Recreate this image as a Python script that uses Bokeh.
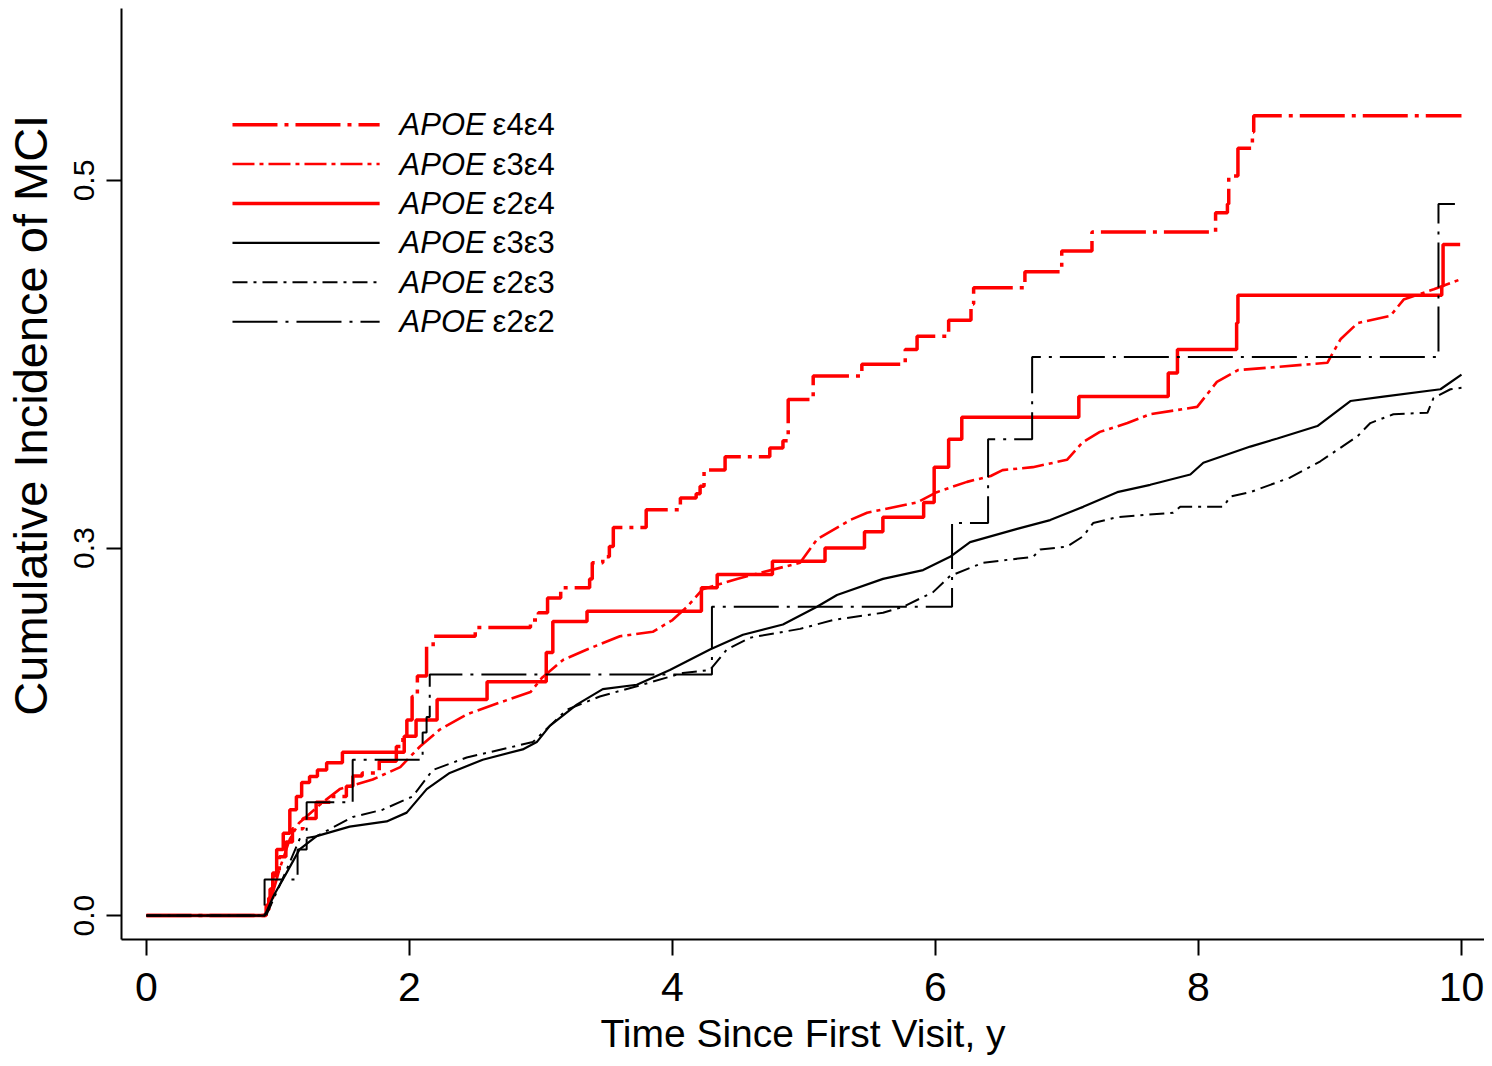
from bokeh.plotting import figure
from bokeh.models import Range1d, FixedTicker, Label, Arrow
from bokeh.embed import file_html
from bokeh.resources import INLINE

# ---------------- data ----------------
x_ticks = [0, 2, 4, 6, 8, 10]
y_ticks = [0.0, 0.25, 0.5]
y_tick_labels = ["0.0", "0.3", "0.5"]
x_title = "Time Since First Visit, y"
y_title = "Cumulative Incidence of MCI"

genotypes = ["ε4ε4", "ε3ε4", "ε2ε4", "ε3ε3", "ε2ε3", "ε2ε2"]

# APOE e4e4 (step)
e44_t = [0, 0.90, 0.93, 0.96, 1.01, 1.06, 1.11, 1.19, 1.29, 1.42, 1.52, 1.57, 1.64, 1.77, 1.90,
         1.95, 1.98, 2.02, 2.06, 2.13, 2.18, 2.50, 2.92, 2.98, 3.05, 3.15, 3.37, 3.39, 3.47, 3.52,
         3.55, 3.80, 4.06, 4.18, 4.21, 4.24, 4.40, 4.74, 4.84, 4.88, 5.07, 5.44, 5.77, 5.86, 6.10,
         6.27, 6.29, 6.68, 6.96, 7.19, 8.13, 8.22, 8.23, 8.30, 8.41, 8.42, 10.0]
e44_v = [0, 0.004, 0.012, 0.027, 0.040, 0.050, 0.059, 0.066, 0.077, 0.081, 0.088, 0.095, 0.097, 0.105, 0.115,
         0.122, 0.133, 0.149, 0.163, 0.183, 0.190, 0.196, 0.201, 0.206, 0.216, 0.223, 0.229, 0.240, 0.244, 0.251,
         0.264, 0.276, 0.284, 0.287, 0.292, 0.303, 0.312, 0.318, 0.323, 0.351, 0.367, 0.375, 0.385, 0.394, 0.405,
         0.416, 0.427, 0.438, 0.452, 0.465, 0.478, 0.484, 0.503, 0.522, 0.533, 0.544, 0.544]

# APOE e3e4 (fine steps, drawn as a curve)
e34_t = [0, 0.90, 0.95, 1.01, 1.09, 1.16, 1.34, 1.47, 1.72, 1.93, 2.08, 2.23, 2.44, 2.69, 2.92, 3.01,
         3.17, 3.35, 3.60, 3.85, 4.00, 4.11, 4.23, 4.49, 4.97, 5.10, 5.35, 5.48, 5.86, 6.01, 6.24, 6.42,
         6.51, 6.74, 7.00, 7.12, 7.25, 7.46, 7.63, 7.99, 8.14, 8.30, 8.98, 9.08, 9.21, 9.46, 9.56, 9.79, 10.0]
e34_v = [0, 0, 0.012, 0.031, 0.052, 0.063, 0.077, 0.086, 0.0925, 0.101, 0.115, 0.1265, 0.137, 0.145, 0.152, 0.162,
         0.174, 0.181, 0.190, 0.193, 0.201, 0.210, 0.222, 0.229, 0.240, 0.256, 0.269, 0.274, 0.281, 0.288, 0.295, 0.299,
         0.303, 0.305, 0.310, 0.322, 0.329, 0.335, 0.341, 0.346, 0.363, 0.371, 0.376, 0.392, 0.403, 0.408, 0.419, 0.426, 0.433]

# APOE e2e4 (step)
e24_t = [0, 0.91, 0.94, 0.96, 0.99, 1.04, 1.09, 1.14, 1.18, 1.24, 1.30, 1.37, 1.49, 1.96, 2.05, 2.21, 2.59,
         3.04, 3.09, 3.35, 4.22, 4.34, 4.76, 5.16, 5.46, 5.60, 5.91, 5.99, 6.10, 6.20, 7.09, 7.77, 7.84,
         8.29, 8.30, 9.85, 9.86, 9.99]
e24_v = [0, 0.007, 0.018, 0.029, 0.045, 0.056, 0.072, 0.081, 0.0905, 0.0946, 0.099, 0.104, 0.111, 0.122, 0.133, 0.147, 0.159,
         0.179, 0.200, 0.207, 0.223, 0.232, 0.241, 0.250, 0.261, 0.271, 0.281, 0.305, 0.324, 0.339, 0.353, 0.369, 0.385,
         0.403, 0.422, 0.428, 0.4565, 0.4565]

# APOE e3e3 (fine steps, drawn as a curve)
e33_t = [0, 0.90, 0.97, 1.065, 1.164, 1.294, 1.545, 1.826, 1.979, 2.131, 2.306, 2.557, 2.861, 2.968, 3.067,
         3.272, 3.47, 3.729, 3.98, 4.285, 4.536, 4.84, 5.099, 5.251, 5.601, 5.906, 6.111, 6.263, 6.621, 6.872,
         7.123, 7.382, 7.633, 7.938, 8.037, 8.394, 8.6, 8.904, 9.155, 9.406, 9.84, 10.0]
e33_v = [0, 0, 0.014, 0.029, 0.045, 0.054, 0.0605, 0.064, 0.070, 0.086, 0.097, 0.106, 0.113, 0.118, 0.129,
         0.1435, 0.154, 0.157, 0.167, 0.181, 0.191, 0.198, 0.210, 0.218, 0.229, 0.235, 0.244, 0.254, 0.263, 0.269,
         0.278, 0.288, 0.293, 0.300, 0.308, 0.319, 0.3245, 0.333, 0.350, 0.353, 0.358, 0.368]

# APOE e2e3 (fine steps, drawn as a curve)
e23_t = [0, 0.91, 1.065, 1.164, 1.294, 1.568, 1.796, 2.024, 2.177, 2.435, 2.938, 3.067, 3.196, 3.447, 3.729,
         4.079, 4.285, 4.414, 4.589, 4.97, 5.221, 5.601, 5.753, 5.982, 6.111, 6.362, 6.743, 6.796, 7.002, 7.123,
         7.199, 7.382, 7.808, 7.861, 8.189, 8.242, 8.394, 8.699, 8.927, 9.209, 9.307, 9.482, 9.741, 9.787, 9.916, 10.0]
e23_v = [0, 0, 0.031, 0.052, 0.054, 0.067, 0.072, 0.081, 0.099, 0.1075, 0.118, 0.129, 0.140, 0.149, 0.156,
         0.165, 0.167, 0.181, 0.189, 0.195, 0.201, 0.206, 0.210, 0.220, 0.231, 0.240, 0.244, 0.249, 0.251, 0.258,
         0.267, 0.271, 0.274, 0.278, 0.278, 0.285, 0.288, 0.298, 0.309, 0.326, 0.335, 0.341, 0.342, 0.352, 0.358, 0.359]

# APOE e2e2 (step)
e22_t = [0, 0.898, 1.149, 1.218, 1.568, 2.10, 2.13, 2.154, 4.30, 6.126, 6.40, 6.735, 9.825, 9.95]
e22_v = [0, 0.0245, 0.045, 0.077, 0.106, 0.1245, 0.135, 0.164, 0.210, 0.267, 0.324, 0.380, 0.484, 0.484]

series_t = [e44_t, e34_t, e24_t, e33_t, e23_t, e22_t]
series_v = [e44_v, e34_v, e24_v, e33_v, e23_v, e22_v]

# ---------------- styles ----------------
RED = "#ff0000"
BLACK = "#000000"
styles = [
    dict(kind="step", color=RED, width=3.5, dash="45 7 4 7"),
    dict(kind="line", color=RED, width=2.6, dash="22 5 4 5"),
    dict(kind="step", color=RED, width=3.5, dash="solid"),
    dict(kind="line", color=BLACK, width=2.2, dash="solid"),
    dict(kind="line", color=BLACK, width=2.0, dash="15 6 3 6"),
    dict(kind="step", color=BLACK, width=2.0, dash="45 8 3 8"),
]
FONT = "Liberation Sans"
NBSP = "\u00a0"

x_range = Range1d(-0.19, 10.175)
y_range = Range1d(-0.0163, 0.617)
p = figure(width=1484, height=1058, x_range=x_range, y_range=y_range,
           output_backend="svg", toolbar_location=None,
           min_border_left=121, min_border_right=0, min_border_top=8, min_border_bottom=119)
p.outline_line_color = None
p.grid.visible = False
p.background_fill_color = "white"
p.border_fill_color = "white"

for t, v, st in zip(series_t, series_v, styles):
    if st["kind"] == "step":
        p.step(t, v, mode="after", line_color=st["color"], line_width=st["width"], line_dash=st["dash"])
    else:
        p.line(t, v, line_color=st["color"], line_width=st["width"], line_dash=st["dash"])

# x axis
xa = p.xaxis[0]
xa.ticker = FixedTicker(ticks=x_ticks)
xa.axis_line_width = 2
xa.major_tick_line_width = 2
xa.major_tick_out = 16
xa.major_tick_in = 0
xa.minor_tick_out = 0
xa.minor_tick_in = 0
xa.major_label_text_font = FONT
xa.major_label_text_font_size = "41px"
xa.major_label_text_color = "black"
xa.major_label_standoff = 17
xa.axis_label = x_title
xa.axis_label_text_font = FONT
xa.axis_label_text_font_size = "39px"
xa.axis_label_text_font_style = "normal"
xa.axis_label_text_color = "black"
xa.axis_label_standoff = 8

# y axis (leading no-break spaces lift the title above centre, as in the reference)
ya = p.yaxis[0]
ya.ticker = FixedTicker(ticks=y_ticks)
ya.major_label_overrides = {t: l for t, l in zip(y_ticks, y_tick_labels)}
ya.major_label_orientation = "vertical"
ya.axis_line_width = 2
ya.major_tick_line_width = 2
ya.major_tick_out = 15
ya.major_tick_in = 0
ya.minor_tick_out = 0
ya.minor_tick_in = 0
ya.major_label_text_font = FONT
ya.major_label_text_font_size = "30px"
ya.major_label_text_color = "black"
ya.major_label_standoff = 12
ya.axis_label = NBSP * 9 + y_title
ya.axis_label_text_font = FONT
ya.axis_label_text_font_size = "47px"
ya.axis_label_text_font_style = "normal"
ya.axis_label_text_color = "black"
ya.axis_label_standoff = 15

# legend (drawn by hand to allow italic "APOE" + upright genotype)
legend_x0, legend_x1, legend_text_x = 0.654, 1.773, 1.925
legend_top, legend_step = 0.538, 0.0268
for i, (g, st) in enumerate(zip(genotypes, styles)):
    yy = legend_top - i * legend_step
    p.add_layout(Arrow(end=None, x_start=legend_x0, y_start=yy, x_end=legend_x1, y_end=yy,
                       line_color=st["color"], line_width=st["width"], line_dash=st["dash"]))
    p.add_layout(Label(x=legend_text_x, y=yy, text="APOE", text_font=FONT, text_font_style="italic",
                       text_font_size="31px", text_baseline="middle", text_color="black"))
    p.add_layout(Label(x=legend_text_x, y=yy, x_offset=93, text=g, text_font=FONT,
                       text_font_size="31px", text_baseline="middle", text_color="black"))

with open("out.html", "w", encoding="utf-8") as f:
    f.write(file_html(p, INLINE))
